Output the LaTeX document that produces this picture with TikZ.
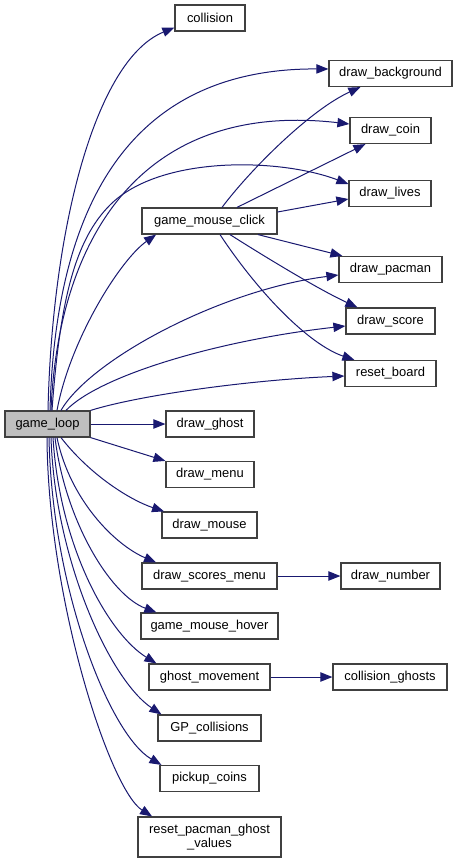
\documentclass[tikz,border=0pt]{standalone}
\usepackage{fontspec}
\setmainfont{Liberation Sans}
\usepackage{tikz}
\usetikzlibrary{arrows.meta}
\definecolor{callblue}{HTML}{191970}
\definecolor{loopgray}{HTML}{BFBFBF}
\definecolor{frame}{HTML}{404040}

\begin{document}
\begin{tikzpicture}[x=0.75pt,y=-0.75pt,
  fn/.style={draw=frame,line width=0.9pt,fill=white,inner sep=0pt,
    minimum height=19.5pt,minimum width={#1*0.75pt},
    font=\fontsize{9.7}{11}\selectfont},
  call/.style={draw=callblue,line width=0.75pt,-{Triangle[length=9pt,width=7pt]}}]
  \useasboundingbox (0,0) rectangle (457,863);

  \node[fn=85,fill=loopgray] (gl) at (47.5,424) {game\_loop};
  \node[fn=70] (col) at (210,18) {collision};
  \node[fn=123] (bg) at (390.5,73.5) {draw\_background};
  \node[fn=81] (dc) at (390.5,130.5) {draw\_coin};
  \node[fn=82] (dl) at (390,193.5) {draw\_lives};
  \node[fn=135] (gmc) at (209.5,221) {game\_mouse\_click};
  \node[fn=103] (dp) at (390.5,269.5) {draw\_pacman};
  \node[fn=89] (ds) at (390.5,321) {draw\_score};
  \node[fn=91] (rb) at (390.5,373.5) {reset\_board};
  \node[fn=88] (dg) at (210,424) {draw\_ghost};
  \node[fn=88] (dm) at (210,474.5) {draw\_menu};
  \node[fn=95] (dmo) at (209.5,525) {draw\_mouse};
  \node[fn=135] (dsm) at (209.5,576) {draw\_scores\_menu};
  \node[fn=99] (dn) at (390.5,576) {draw\_number};
  \node[fn=137] (gmh) at (209.5,626) {game\_mouse\_hover};
  \node[fn=121] (gm) at (209.5,677) {ghost\_movement};
  \node[fn=114] (cg) at (390,677) {collision\_ghosts};
  \node[fn=103] (gp) at (209.5,728) {GP\_collisions};
  \node[fn=99] (pc) at (209.5,778.5) {pickup\_coins};
  \node[fn=143,minimum height=30pt,align=center] (rp) at (209.5,837)
    {reset\_pacman\_ghost\\\_values};

  % calls from game_loop, upwards
  \draw[call] (48,0 |- gl.north) .. controls (52,230) and (95,60) .. ([yshift=3pt]col.south west);
  \draw[call] (50,0 |- gl.north) .. controls (55,220) and (120,68) .. (bg.west |- 0,69);
  \draw[call] (51,0 |- gl.north) .. controls (58,240) and (140,100) .. (dc.west |- 0,124);
  \draw[call] (52,0 |- gl.north) .. controls (60,300) and (75,240) .. (110,205)
    .. controls (160,155) and (280,158) .. (dl.west |- 0,184);
  \draw[call] (57,0 |- gl.north) .. controls (70,340) and (120,260) .. ([xshift=11pt]gmc.south west);
  \draw[call] (61,0 |- gl.north) .. controls (90,360) and (220,290) .. (dp.west |- 0,275);
  \draw[call] (66,0 |- gl.north) .. controls (100,375) and (220,340) .. (ds.west |- 0,326);
  \draw[call] (gl.north east) .. controls (140,395) and (250,380) .. (rb.west |- 0,376);
  % calls from game_loop, sideways and downwards
  \draw[call] (gl) -- (dg);
  \draw[call] (gl.south east) -- (dm.north west);
  \draw[call] (61,0 |- gl.south) .. controls (90,475) and (130,500) .. ([xshift=2pt]dmo.north west);
  \draw[call] (57,0 |- gl.south) .. controls (70,500) and (115,545) .. ([xshift=11pt]dsm.north west);
  \draw[call] (55,0 |- gl.south) .. controls (65,520) and (110,595) .. ([xshift=12pt]gmh.north west);
  \draw[call] (53,0 |- gl.south) .. controls (60,550) and (110,635) .. ([xshift=6pt]gm.north west);
  \draw[call] (51,0 |- gl.south) .. controls (55,560) and (110,680) .. ([xshift=3pt]gp.north west);
  \draw[call] (49,0 |- gl.south) .. controls (52,590) and (110,735) .. ([xshift=1.5pt]pc.north west);
  \draw[call] (47,0 |- gl.south) .. controls (48,600) and (110,790) .. ([xshift=11pt]rp.north west);
  % calls from game_mouse_click
  \draw[call] (222,0 |- gmc.north) .. controls (250,170) and (310,110) .. ([xshift=24pt]bg.south west);
  \draw[call] (237,0 |- gmc.north) -- ([xshift=12pt]dc.south west);
  \draw[call] (gmc.east |- 0,212) -- (dl.west |- 0,199);
  \draw[call] (258,0 |- gmc.south) -- ([xshift=3pt]dp.north west);
  \draw[call] (230,0 |- gmc.south) .. controls (270,260) and (320,290) .. ([xshift=9pt]ds.north west);
  \draw[call] (220,0 |- gmc.south) .. controls (260,295) and (310,345) .. ([xshift=7.5pt]rb.north west);
  % other calls
  \draw[call] (dsm) -- (dn);
  \draw[call] (gm) -- (cg);
\end{tikzpicture}
\end{document}
